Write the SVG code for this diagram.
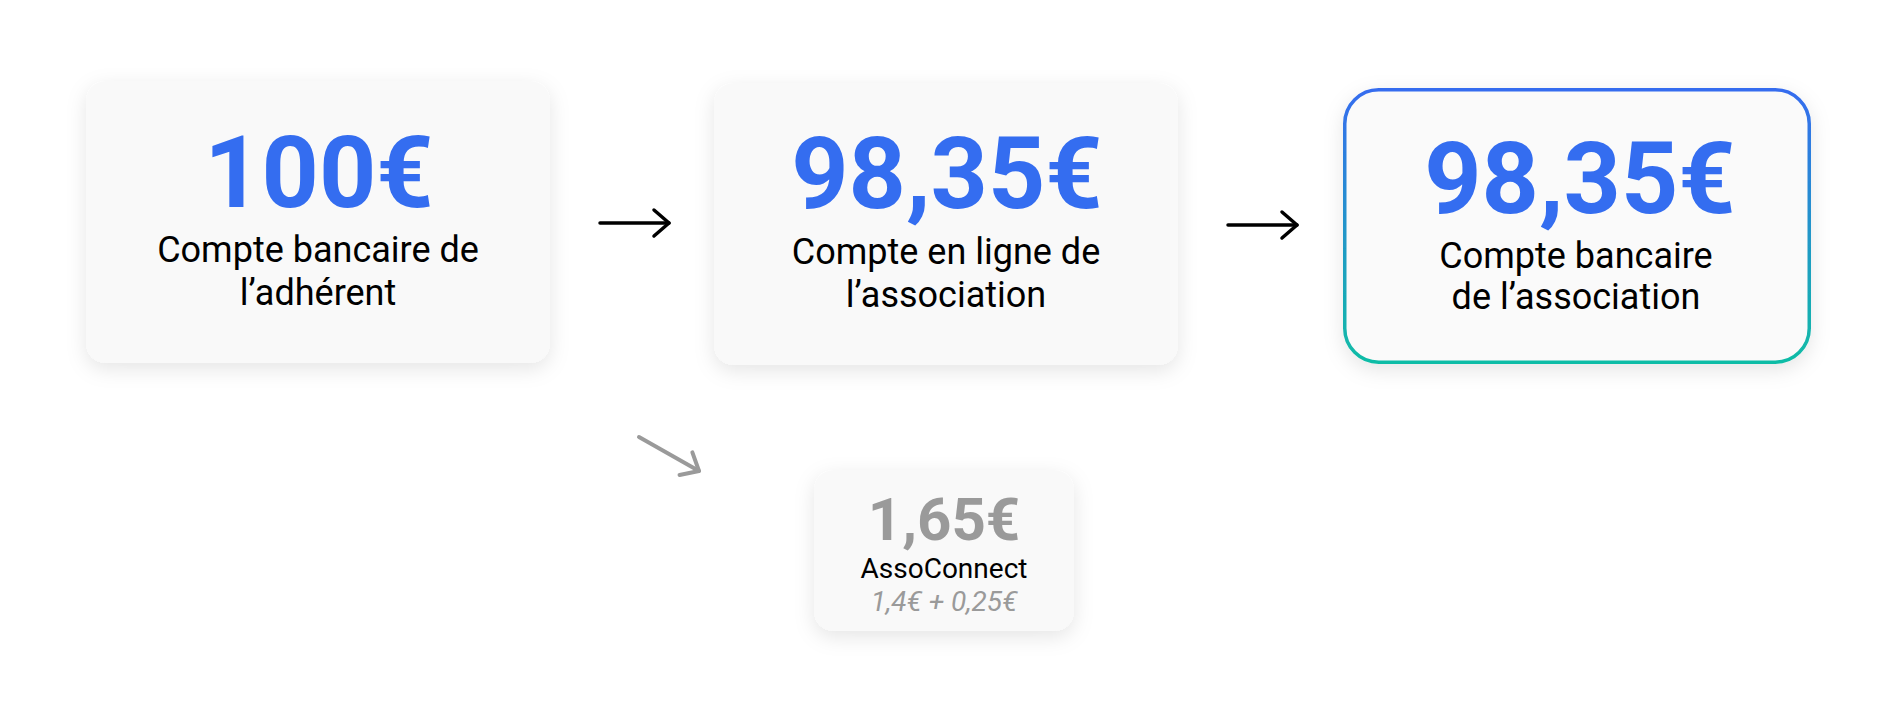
<svg xmlns="http://www.w3.org/2000/svg" width="1900" height="720" viewBox="0 0 1900 720">
  <defs>
    <filter id="shadow" x="-20%" y="-20%" width="140%" height="150%">
      <feDropShadow dx="0" dy="6" stdDeviation="10" flood-color="#000" flood-opacity="0.10"/>
    </filter>
    <linearGradient id="borderGrad" x1="0" y1="0" x2="0" y2="1">
      <stop offset="0" stop-color="#356CEF"/>
      <stop offset="1" stop-color="#10BCA6"/>
    </linearGradient>
    <marker id="headBlack" markerUnits="userSpaceOnUse" orient="auto" refX="0" refY="0" markerWidth="40" markerHeight="40" viewBox="-20 -20 40 40" overflow="visible">
      <path d="M-15,-13 L0,0 L-15,13" fill="none" stroke="#000" stroke-width="3.5" stroke-linecap="round" stroke-linejoin="round"/>
    </marker>
    <marker id="headGray" markerUnits="userSpaceOnUse" orient="auto" refX="0" refY="0" markerWidth="40" markerHeight="40" viewBox="-20 -20 40 40" overflow="visible">
      <path d="M-15,-13 L0,0 L-15,13" fill="none" stroke="#9A9A9A" stroke-width="4" stroke-linecap="round" stroke-linejoin="round"/>
    </marker>
  </defs>
  <style>
    .card { fill: #F9F9F9; filter: url(#shadow); }
    .amount { font-family: Roboto, "Liberation Sans", sans-serif; font-weight: 700; fill: #346DF0; text-anchor: middle; }
    .label { font-family: Roboto, "Liberation Sans", sans-serif; font-weight: 400; fill: #000; text-anchor: middle; }
    .gray { fill: #9A9A9A; }
    .black-arrow { fill: none; stroke: #000; stroke-width: 3.5; stroke-linecap: round; marker-end: url(#headBlack); }
    .gray-arrow { fill: none; stroke: #9A9A9A; stroke-width: 4; stroke-linecap: round; marker-end: url(#headGray); }
  </style>
  <rect width="1900" height="720" fill="#FFFFFF"/>

  <g id="node-adherent">
    <rect class="card" x="86" y="81" width="464" height="282" rx="20"/>
    <text class="amount" x="319" y="207" font-size="100">100€</text>
    <text class="label" x="318" y="262" font-size="36">Compte bancaire de</text>
    <text class="label" x="318" y="305" font-size="36">l’adhérent</text>
  </g>

  <g id="node-compte-en-ligne">
    <rect class="card" x="714" y="83" width="464" height="282" rx="20"/>
    <text class="amount" x="947" y="208" font-size="100">98,35€</text>
    <text class="label" x="946" y="264" font-size="36">Compte en ligne de</text>
    <text class="label" x="946" y="307" font-size="36">l’association</text>
  </g>

  <g id="node-compte-bancaire-asso">
    <rect x="1344.75" y="89.75" width="464.5" height="272.5" rx="34" fill="#FAFAFA" stroke="url(#borderGrad)" stroke-width="3.5" filter="url(#shadow)"/>
    <text class="amount" x="1580" y="213" font-size="100">98,35€</text>
    <text class="label" x="1576" y="268" font-size="36">Compte bancaire</text>
    <text class="label" x="1576" y="309" font-size="36">de l’association</text>
  </g>

  <g id="node-assoconnect">
    <rect class="card" x="814" y="470" width="260" height="161" rx="20"/>
    <text class="amount gray" x="944" y="540" font-size="60">1,65€</text>
    <text class="label" x="944" y="578" font-size="28">AssoConnect</text>
    <text class="label gray" x="944" y="611" font-size="28" font-style="italic">1,4€ + 0,25€</text>
  </g>

  <g id="connectors">
    <line class="black-arrow" x1="600" y1="223" x2="669" y2="223"/>
    <line class="black-arrow" x1="1228" y1="225" x2="1297" y2="225"/>
    <line class="gray-arrow" x1="639" y1="437" x2="699" y2="471"/>
  </g>
</svg>
